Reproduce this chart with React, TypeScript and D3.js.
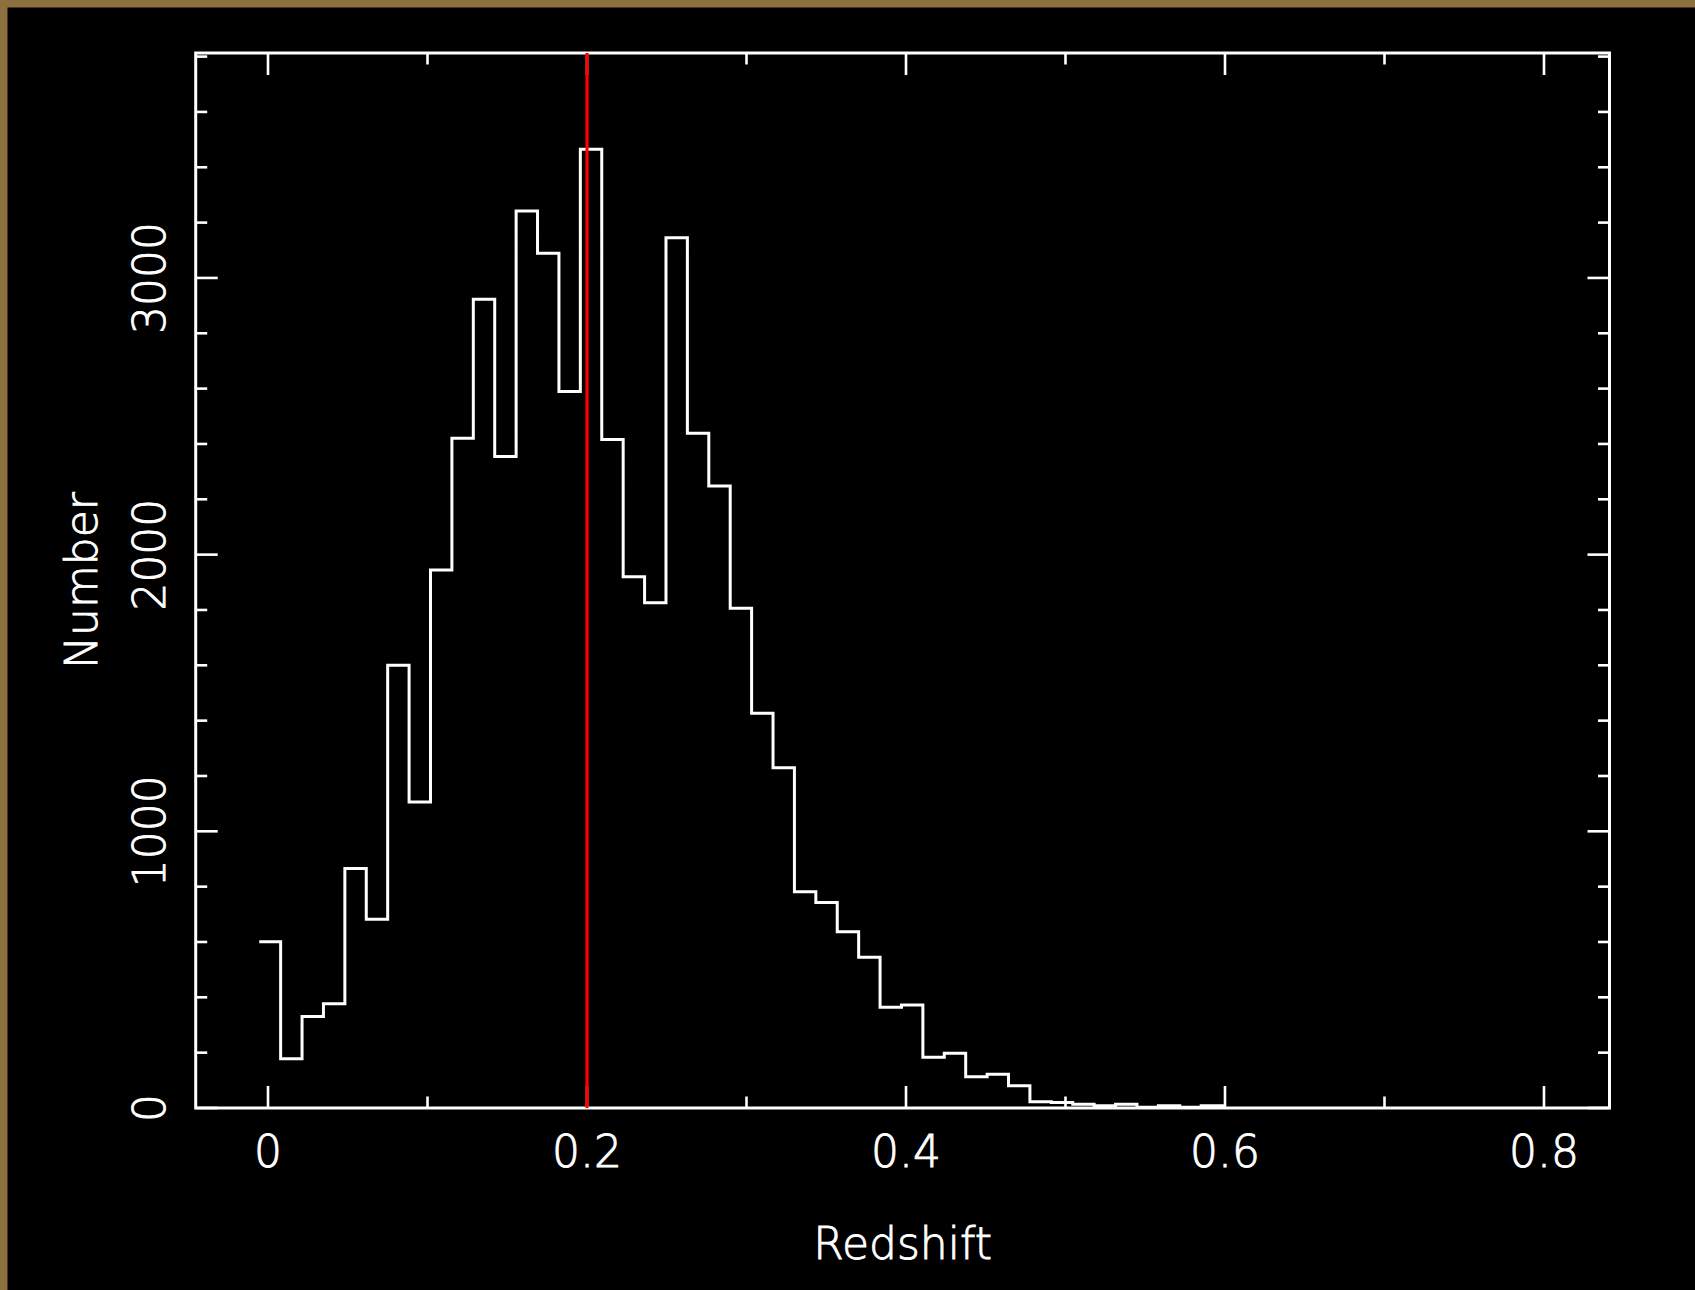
import { useMemo } from "react";
import * as d3 from "d3";

const width = 1695;
const height = 1290;

// plot frame (pixels)
const frameLeft = 195.7;
const frameRight = 1609.5;
const frameTop = 53;
const frameBottom = 1108;

// histogram bins: first edge and width in redshift
const binStart = -0.0055;
const binWidth = 0.013422;
const counts = [
  601, 178, 331, 377, 866, 682, 1600, 1106, 1944, 2421, 2923, 2355, 3242, 3089,
  2590, 3465, 2416, 1920, 1826, 3145, 2439, 2248, 1806, 1427, 1230, 782, 743,
  637, 545, 364, 372, 183, 198, 113, 122, 80, 23, 20, 14, 8, 14, 3, 8, 3, 8,
];

const xMajor = [0, 0.2, 0.4, 0.6, 0.8];
const xMinor = [0.1, 0.3, 0.5, 0.7];
const xTickLabels = ["0", "0.2", "0.4", "0.6", "0.8"];
const yMajor = [0, 1000, 2000, 3000];
const yTickLabels = ["0", "1000", "2000", "3000"];
const markerZ = 0.2;

const fontFamily = "'DejaVu Sans', sans-serif";

const App = () => {
  const xScale = d3.scaleLinear().domain([-0.04533, 0.84107]).range([frameLeft, frameRight]);
  const yScale = d3.scaleLinear().domain([0, 3813]).range([frameBottom, frameTop]);

  const yMinor = d3.range(200, 3801, 200).filter((v) => v % 1000 !== 0);

  const pathD = useMemo(() => {
    const pts: [number, number][] = counts.map((c, i) => [binStart + i * binWidth, c]);
    pts.push([binStart + counts.length * binWidth, 0]);
    const line = d3
      .line<[number, number]>()
      .x((d) => xScale(d[0]))
      .y((d) => yScale(d[1]))
      .curve(d3.curveStepAfter);
    return line(pts) || "";
  }, []);

  const major = 22;
  const minor = 11.5;

  return (
    <svg
      width={width}
      height={height}
      viewBox={`0 0 ${width} ${height}`}
      style={{ position: "absolute", left: 0, top: 0, display: "block" }}
    >
      <rect x={0} y={0} width={width} height={height} fill="#000" />
      {/* brown edge on top and left */}
      <rect x={0} y={0} width={width} height={7.5} fill="#8c703e" />
      <rect x={0} y={0} width={7.5} height={height} fill="#8c703e" />

      <g stroke="#fff" strokeWidth={2.6} fill="none">
        {/* x ticks, bottom and top */}
        {xMajor.concat(xMinor).map((v) => {
          const len = xMajor.includes(v) ? major : minor;
          const x = xScale(v);
          return (
            <g key={`x${v}`}>
              <line x1={x} x2={x} y1={frameBottom} y2={frameBottom - len} />
              <line x1={x} x2={x} y1={frameTop} y2={frameTop + len} />
            </g>
          );
        })}
        {/* y ticks, left and right */}
        {yMajor.concat(yMinor).map((v) => {
          const len = yMajor.includes(v) ? major : minor;
          const y = yScale(v);
          return (
            <g key={`y${v}`}>
              <line x1={frameLeft} x2={frameLeft + len} y1={y} y2={y} />
              <line x1={frameRight} x2={frameRight - len} y1={y} y2={y} />
            </g>
          );
        })}
        <rect
          x={frameLeft}
          y={frameTop}
          width={frameRight - frameLeft}
          height={frameBottom - frameTop}
          strokeWidth={3}
        />
        <path d={pathD} strokeWidth={3} strokeLinejoin="miter" />
      </g>

      <line
        x1={xScale(markerZ)}
        x2={xScale(markerZ)}
        y1={frameBottom}
        y2={frameTop}
        stroke="#ff0000"
        strokeWidth={3.2}
      />

      <g
        fill="#fff"
        stroke="#fff"
        strokeWidth={0.9}
        fontFamily={fontFamily}
        fontSize={44}
        fontWeight={200}
      >
        {xMajor.map((v, i) => (
          <text key={`xl${v}`} x={xScale(v)} y={1167} textAnchor="middle">
            {xTickLabels[i]}
          </text>
        ))}
        {yMajor.map((v, i) => (
          <text
            key={`yl${v}`}
            transform={`translate(165,${yScale(v)}) rotate(-90)`}
            textAnchor="middle"
          >
            {yTickLabels[i]}
          </text>
        ))}
        <text x={(frameLeft + frameRight) / 2} y={1259} textAnchor="middle">
          Redshift
        </text>
        <text
          transform={`translate(97,${(frameTop + frameBottom) / 2}) rotate(-90)`}
          textAnchor="middle"
        >
          Number
        </text>
      </g>
    </svg>
  );
};

export default App;
